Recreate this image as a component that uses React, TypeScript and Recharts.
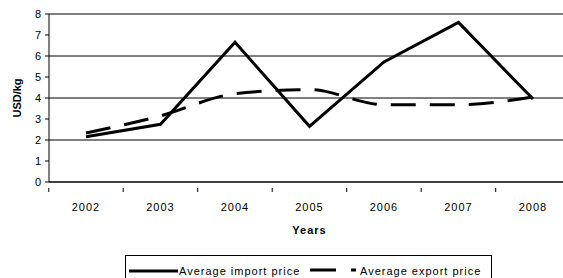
import { LineChart, Line, XAxis, YAxis, CartesianGrid, Label } from 'recharts';

const years = ['2002', '2003', '2004', '2005', '2006', '2007', '2008'];
const importPrice = [2.15, 2.75, 6.65, 2.65, 5.72, 7.6, 3.95];
const exportPrice = [2.33, 3.15, 4.2, 4.4, 3.68, 3.68, 4.05];
const yTicks = [0, 1, 2, 3, 4, 5, 6, 7, 8];

const FONT = '"Liberation Sans", Arial, sans-serif';
const HALF_BAND = 37.2;

const data = years.map((year, i) => ({
  year,
  importPrice: importPrice[i],
  exportPrice: exportPrice[i],
}));

// category label plus the Excel-style tick mark between categories
const YearTick = (props: any) => {
  const { x, y, payload, index } = props;
  const axisY = y - 15;
  return (
    <g>
      <line x1={x + HALF_BAND} y1={axisY} x2={x + HALF_BAND} y2={axisY + 4} stroke="#000" />
      {index === 0 && <line x1={x - HALF_BAND} y1={axisY} x2={x - HALF_BAND} y2={axisY + 4} stroke="#000" />}
      <text
        x={x}
        y={y}
        dy="0.71em"
        textAnchor="middle"
        fill="#000"
        style={{ fontSize: 11, fontFamily: FONT, letterSpacing: 1 }}
      >
        {payload.value}
      </text>
    </g>
  );
};

const LegendBox = () => (
  <div
    style={{
      position: 'absolute',
      left: 125,
      top: 255,
      width: 367,
      height: 30,
      border: '1px solid #000',
      boxSizing: 'border-box',
      fontFamily: FONT,
      fontSize: 11,
      letterSpacing: 1,
      color: '#000',
    }}
  >
    <svg width={367} height={30} style={{ position: 'absolute', left: 0, top: 0 }}>
      <line x1={3} y1={15} x2={52} y2={15} stroke="#000" strokeWidth={3} />
      <line x1={184} y1={14} x2={210} y2={14} stroke="#000" strokeWidth={3} />
      <line x1={225} y1={14} x2={230} y2={14} stroke="#000" strokeWidth={3} />
    </svg>
    <span style={{ position: 'absolute', left: 53, top: 9 }}>Average import price</span>
    <span style={{ position: 'absolute', left: 234, top: 9 }}>Average export price</span>
  </div>
);

const App = () => (
  <div
    style={{
      position: 'absolute',
      left: 0,
      top: 0,
      width: 563,
      height: 278,
      overflow: 'hidden',
      background: '#fff',
    }}
  >
    <LineChart
      width={572}
      height={278}
      data={data}
      margin={{ top: 14, right: 2, left: 0, bottom: 66 }}
    >
      <CartesianGrid vertical={false} stroke="#000" strokeWidth={1} />
      <XAxis
        dataKey="year"
        height={30}
        stroke="#000"
        tickLine={false}
        interval={0}
        padding={{ left: 37, right: 37 }}
        tick={<YearTick />}
        tickMargin={15}
      >
        <Label
          value="Years"
          position="insideBottom"
          offset={-22}
          style={{ fill: '#000', fontSize: 11, fontWeight: 'bold', fontFamily: FONT, letterSpacing: 1 }}
        />
      </XAxis>
      <YAxis
        width={49}
        domain={[0, 8]}
        ticks={yTicks}
        stroke="#000"
        tickSize={4}
        tickMargin={4}
        tick={{ fill: '#000', fontSize: 11, fontFamily: FONT }}
      >
        <Label
          value="USD/kg"
          angle={-90}
          position="insideLeft"
          offset={17}
          style={{ fill: '#000', fontSize: 11, fontWeight: 'bold', fontFamily: FONT, textAnchor: 'middle' }}
        />
      </YAxis>
      <Line
        type="linear"
        dataKey="importPrice"
        stroke="#000"
        strokeWidth={3}
        dot={false}
        isAnimationActive={false}
      />
      <Line
        type="monotone"
        dataKey="exportPrice"
        stroke="#000"
        strokeWidth={3}
        strokeDasharray="25 14"
        dot={false}
        isAnimationActive={false}
      />
    </LineChart>
    <LegendBox />
  </div>
);

export default App;
